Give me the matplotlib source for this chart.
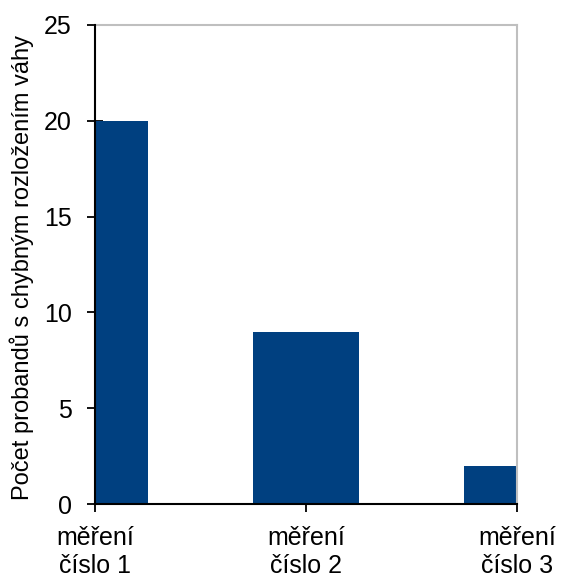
import matplotlib
matplotlib.use("Agg")
import matplotlib.pyplot as plt

categories = ["měření\nčíslo 1", "měření\nčíslo 2", "měření\nčíslo 3"]
values = [20, 9, 2]
y_ticks = [0, 5, 10, 15, 20, 25]
ylabel = "Počet probandů s chybným rozložením váhy"

plt.rcParams['font.family'] = ['Liberation Sans', 'DejaVu Sans']

fig = plt.figure(figsize=(5.61, 5.78), dpi=100)
ax = fig.add_axes([95/561, 74/578, 422/561, 479/578])

x = list(range(len(categories)))
ax.bar(x, values, width=0.5, color='#004080', zorder=2)
ax.set_xlim(0, 2)
ax.set_ylim(0, 25)
ax.set_yticks(y_ticks)
ax.set_xticks(x)
ax.set_xticklabels(categories, fontsize=18, linespacing=1.25)
ax.tick_params(axis='y', direction='inout', length=11.5, width=1.3, labelsize=18, pad=11)
ax.tick_params(axis='x', direction='out', length=6, width=1.3, pad=9.5)
ax.set_ylabel(ylabel, fontsize=17, va='center')
ax.yaxis.set_label_coords(-0.173, 0.494)

for s in ['left', 'bottom']:
    ax.spines[s].set_color('black')
    ax.spines[s].set_linewidth(1.5)
    ax.spines[s].set_zorder(3)
for s in ['top', 'right']:
    ax.spines[s].set_color('#bfbfbf')
    ax.spines[s].set_linewidth(1.5)

fig.savefig("out.png", dpi=100)
